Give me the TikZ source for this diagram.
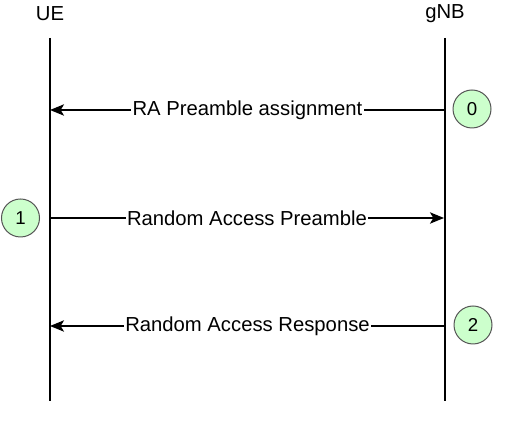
\documentclass[tikz,border=0pt]{standalone}
\usepackage{fontspec}
\setmainfont{Liberation Sans}
\usetikzlibrary{arrows.meta}
\definecolor{stepgreen}{HTML}{CCFFCC}
\definecolor{stepedge}{HTML}{555555}
\begin{document}
\begin{tikzpicture}[x=0.75pt,y=-0.75pt,
  every node/.style={font=\fontsize{15.2pt}{18pt}\selectfont},
  lifeline/.style={line width=1.1pt,black},
  msg/.style={line width=1.1pt,black,-{Stealth[length=10.5pt,width=8.5pt,inset=2.5pt]}},
  msglabel/.style={fill=white,inner sep=1pt},
  entity/.style={inner sep=0pt},
  stepcircle/.style={circle,draw=stepedge,fill=stepgreen,line width=0.75pt,minimum size=28.5pt,inner sep=0pt,font=\fontsize{14pt}{16pt}\selectfont}]
\useasboundingbox (0,0) rectangle (511,423);
% entities
\node[entity] (ue) at (50,13.5) {UE};
\node[entity] (gnb) at (445,13.5) {gNB};
\coordinate (ueTop) at (50,38);
\coordinate (ueBot) at (50,401);
\coordinate (gnbTop) at (445,38);
\coordinate (gnbBot) at (445,401);
\draw[lifeline] (ueTop) -- (ueBot);
\draw[lifeline] (gnbTop) -- (gnbBot);
% message end points
\coordinate (ueA) at (50,110);
\coordinate (gnbA) at (445,110);
\coordinate (ueB) at (50,218);
\coordinate (gnbB) at (444,218);
\coordinate (ueC) at (50,326);
\coordinate (gnbC) at (445,326);
% messages
\draw[msg] (gnbA) -- node[msglabel] (lA) {RA Preamble assignment} (ueA);
\draw[msg] (ueB) -- node[msglabel] (lB) {Random Access Preamble} (gnbB);
\draw[msg] (gnbC) -- node[msglabel] (lC) {Random Access Response} (ueC);
% step markers
\node[stepcircle] (s0) at (472,109) {0};
\node[stepcircle] (s1) at (20.5,218) {1};
\node[stepcircle] (s2) at (473,325) {2};
\end{tikzpicture}
\end{document}
